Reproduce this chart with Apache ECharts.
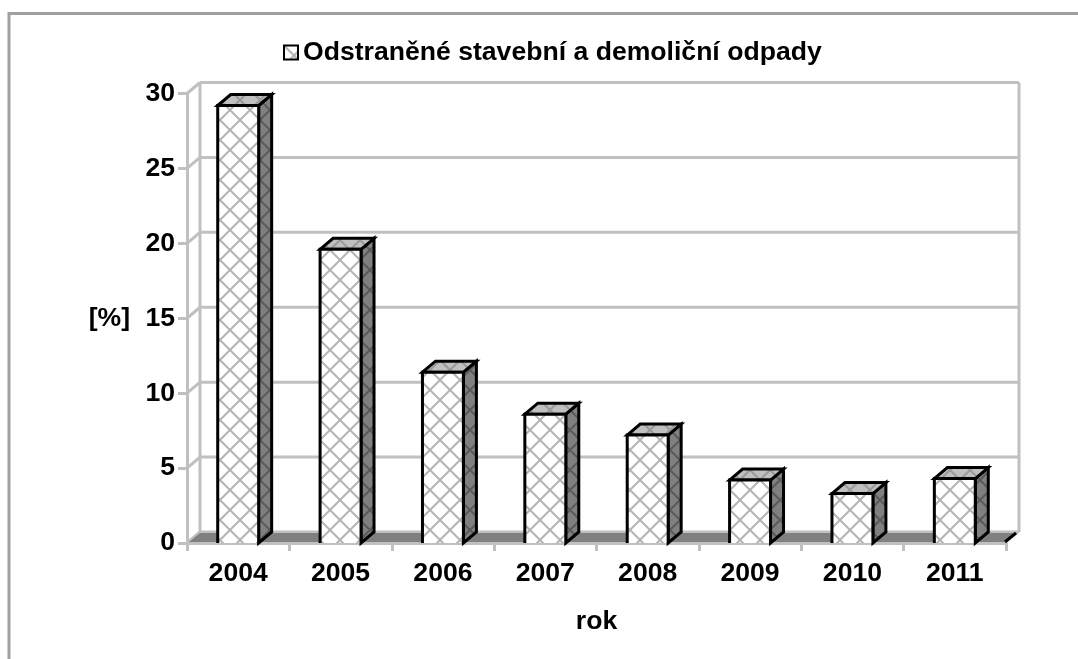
<!DOCTYPE html>
<html><head><meta charset="utf-8">
<script src="https://cdn.jsdelivr.net/npm/echarts@6/dist/echarts.min.js"></script>
<style>html,body{margin:0;padding:0;background:#fff}#c{width:1078px;height:659px}</style>
</head><body><div id="c"></div>
<script>
const years = ['2004','2005','2006','2007','2008','2009','2010','2011'];
const values = [29.2,19.6,11.4,8.6,7.2,4.2,3.3,4.3];
const yTicks = [0,5,10,15,20,25,30];
const seriesName = 'Odstraněné stavební a demoliční odpady';
const DX = 13, DY = 11;
function hatch(line){
  const p = 20, c = document.createElement('canvas');
  c.width = p; c.height = p;
  const g = c.getContext('2d');
  g.strokeStyle = line; g.lineWidth = 2;
  g.beginPath();
  g.moveTo(0,0); g.lineTo(p,p);
  g.moveTo(p,0); g.lineTo(0,p);
  g.stroke();
  return c;
}
const frontPat = {image: hatch('#b4b4b4'), repeat:'repeat'};
const sidePat = {image: hatch('#5a5a5a'), repeat:'repeat'};
const topPat = {image: hatch('#9a9a9a'), repeat:'repeat'};
const legendPat = {image: hatch('#b0b0b0'), repeat:'repeat'};
const chart = echarts.init(document.getElementById('c'), null, {renderer:'canvas'});
const font = {fontFamily:'Liberation Sans', fontWeight:'bold', fontSize:26.6, color:'#000'};
const grey = '#c0c0c0';
function poly(pts, fill, stroke, lw){
  return {type:'polygon', shape:{points:pts}, style:{fill:fill, stroke:stroke||null, lineWidth:lw||0, lineJoin:'miter'}};
}
function renderWall(params, api){
  const v = api.value(1), cs = params.coordSys;
  const y = api.coord([0,v])[1], x0 = cs.x, x1 = cs.x+cs.width;
  const kids = [];
  const ln = (a,b,c,d,col,w)=>({type:'line',shape:{x1:a,y1:b,x2:c,y2:d},style:{stroke:col||grey,lineWidth:w||3}});
  kids.push(ln(x0,y,x0+DX,y-DY));
  kids.push(ln(x0+DX,y-DY,x1+DX,y-DY));
  if(v===0){
    kids.unshift(ln(x0+DX,cs.y-DY,x0+DX,y-DY));
    kids.unshift(ln(x1+DX,cs.y-DY,x1+DX,y-DY));
    kids.push(poly([[x0+2,y-1],[x0+DX,y-DY+1],[x1+DX-1,y-DY+1],[x1-2,y-1]],'#808080'));
    kids.push(ln(x1-1,y-1,x1+DX-3,y-DY+1,'#000',3));
  }
  return {type:'group',children:kids};
}
function renderBar(params, api){
  const x = api.coord([api.value(0),0])[0], y0 = api.coord([0,0])[1], y1 = api.coord([0,api.value(1)])[1];
  const w = api.size([1,0])[0]*0.4, l = x-w/2, r = x+w/2;
  const sidePts = [[r,y1],[r+DX,y1-DY],[r+DX,y0-DY],[r,y0]];
  const topPts = [[l,y1],[l+DX,y1-DY],[r+DX,y1-DY],[r,y1]];
  const frontPts = [[l,y1],[r,y1],[r,y0],[l,y0]];
  const k = '#000';
  return {type:'group',children:[
    poly(sidePts,'#808080'), poly(sidePts,sidePat,k,3),
    poly(topPts,'#c0c0c0'), poly(topPts,topPat,k,3),
    poly(frontPts,'#fff'), poly(frontPts,frontPat),
    {type:'polyline',shape:{points:[[l,y0],[l,y1],[r,y1],[r,y0]]},style:{fill:null,stroke:k,lineWidth:3}}
  ]};
}
chart.setOption({
  animation:false,
  backgroundColor:'#fff',
  graphic:[{type:'polyline',shape:{points:[[9,659],[9,13.5],[1078,13.5]]},style:{fill:null,stroke:'#a0a0a0',lineWidth:3},silent:true}],
  legend:{show:true,top:39,left:283,padding:0,itemWidth:14,itemHeight:14,itemGap:5,
    textStyle:font,
    data:[{name:seriesName,icon:'rect',itemStyle:{color:legendPat,borderColor:'#000',borderWidth:2}}]},
  grid:{left:187,right:72,top:93.5,bottom:116,containLabel:false},
  xAxis:{type:'category',data:years,name:'rok',nameLocation:'middle',nameGap:65,nameTextStyle:font,
    axisLine:{lineStyle:{color:grey,width:3}},
    axisTick:{show:true,length:8,lineStyle:{color:grey,width:3}},
    axisLabel:Object.assign({margin:17,interval:0},font),splitLine:{show:false}},
  yAxis:{type:'value',min:0,max:30,interval:5,name:'[%]',nameLocation:'middle',nameGap:57,nameRotate:0,
    nameTextStyle:Object.assign({padding:[4,0,0,0]},font),
    axisLine:{show:true,lineStyle:{color:grey,width:3}},
    axisTick:{show:true,length:9,lineStyle:{color:grey,width:3}},
    axisLabel:Object.assign({margin:12},font),splitLine:{show:false}},
  series:[
    {type:'custom',name:'walls',z:1,clip:false,silent:true,renderItem:renderWall,encode:{x:0,y:1},data:yTicks.map(v=>[0,v])},
    {type:'custom',name:seriesName,z:3,clip:false,renderItem:renderBar,encode:{x:0,y:1},data:values.map((v,i)=>[i,v])}
  ]
});
</script></body></html>
